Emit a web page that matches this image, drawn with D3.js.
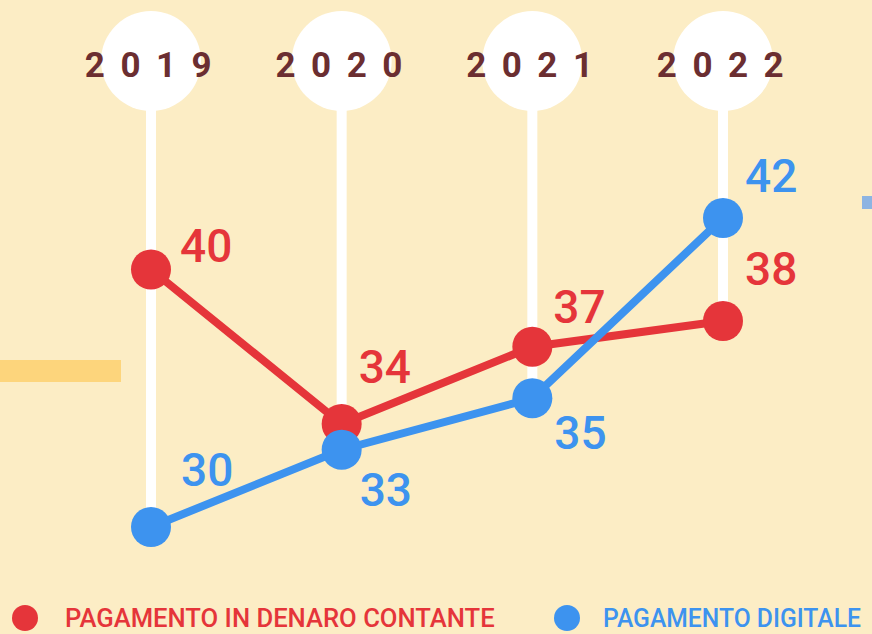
<!DOCTYPE html>
<html>
<head>
<meta charset="utf-8">
<script src="https://cdn.jsdelivr.net/npm/d3@7/dist/d3.min.js"></script>
<style>
  html, body { margin: 0; padding: 0; background: #fcedc5; }
  svg { display: block; }
</style>
</head>
<body>
<svg id="chart" width="872" height="634"></svg>
<script>
const years = ["2019", "2020", "2021", "2022"];
const cashValues = [40, 34, 37, 38];
const digitalValues = [30, 33, 35, 42];
const seriesNames = ["PAGAMENTO IN DENARO CONTANTE", "PAGAMENTO DIGITALE"];

// label layout (above = negative)
const cashLabelDy = [-8, -41, -24, -36];
const digitalLabelDy = [-41, 56, 51, -26];
const cashLabelDx = [29, 17, 21, 22];
const digitalLabelDx = [30, 18, 22, 22];

const RED = "#e5353a";
const BLUE = "#3d93ef";

const svg = d3.select("#chart");
const W = 872, H = 634;

svg.append("rect").attr("width", W).attr("height", H).attr("fill", "#fcedc5");

// decorations
svg.append("rect").attr("x", 0).attr("y", 360).attr("width", 121).attr("height", 22).attr("fill", "#fdd57c");
svg.append("rect").attr("x", 862).attr("y", 196).attr("width", 12).attr("height", 13).attr("fill", "#8db4e2");

const x = d3.scalePoint().domain(years).range([151, 723]);
const y = d3.scaleLinear().domain([30, 42]).range([527, 218]);

// white stems + circles
years.forEach((yr, i) => {
  const low = Math.min(cashValues[i], digitalValues[i]);
  svg.append("line")
    .attr("x1", x(yr)).attr("x2", x(yr))
    .attr("y1", 60).attr("y2", y(low))
    .attr("stroke", "#ffffff").attr("stroke-width", 10);
  svg.append("circle").attr("cx", x(yr)).attr("cy", 61).attr("r", 50).attr("fill", "#ffffff");
  svg.append("text")
    .attr("x", x(yr) + 5).attr("y", 77)
    .attr("text-anchor", "middle")
    .attr("font-family", "Roboto")
    .attr("font-weight", "bold")
    .attr("font-size", 35)
    .attr("letter-spacing", 15.5)
    .attr("fill", "#6b2e31")
    .text(yr);
});

function drawSeries(vals, color, dxs, dys) {
  const data = years.map((yr, i) => ({ yr, v: vals[i], dx: dxs[i], dy: dys[i] }));
  const line = d3.line().x(d => x(d.yr)).y(d => y(d.v));
  svg.append("path").datum(data).attr("d", line)
    .attr("fill", "none").attr("stroke", color).attr("stroke-width", 8);
  svg.selectAll(null).data(data).enter().append("circle")
    .attr("cx", d => x(d.yr)).attr("cy", d => y(d.v)).attr("r", 20).attr("fill", color);
  svg.selectAll(null).data(data).enter().append("text")
    .attr("x", d => x(d.yr) + d.dx).attr("y", d => y(d.v) + d.dy)
    .attr("font-family", "Roboto").attr("font-weight", 500).attr("font-size", 46)
    .attr("fill", color).text(d => d.v);
}

drawSeries(cashValues, RED, cashLabelDx, cashLabelDy);
drawSeries(digitalValues, BLUE, digitalLabelDx, digitalLabelDy);

// legend (condensed via horizontal scaling)
const legend = [
  { name: seriesNames[0], color: RED, cx: 25, tx: 65, tw: 430 },
  { name: seriesNames[1], color: BLUE, cx: 567, tx: 603, tw: 258 }
];
legend.forEach(l => {
  svg.append("circle").attr("cx", l.cx).attr("cy", 618).attr("r", 13).attr("fill", l.color);
  const t = svg.append("text")
    .attr("x", 0).attr("y", 0)
    .attr("font-family", "Roboto").attr("font-weight", 500).attr("font-size", 26)
    .attr("fill", l.color).text(l.name);
  const natural = t.node().getComputedTextLength();
  const sx = l.tw / natural;
  t.attr("transform", `translate(${l.tx},627) scale(${sx},1)`);
});
</script>
</body>
</html>
